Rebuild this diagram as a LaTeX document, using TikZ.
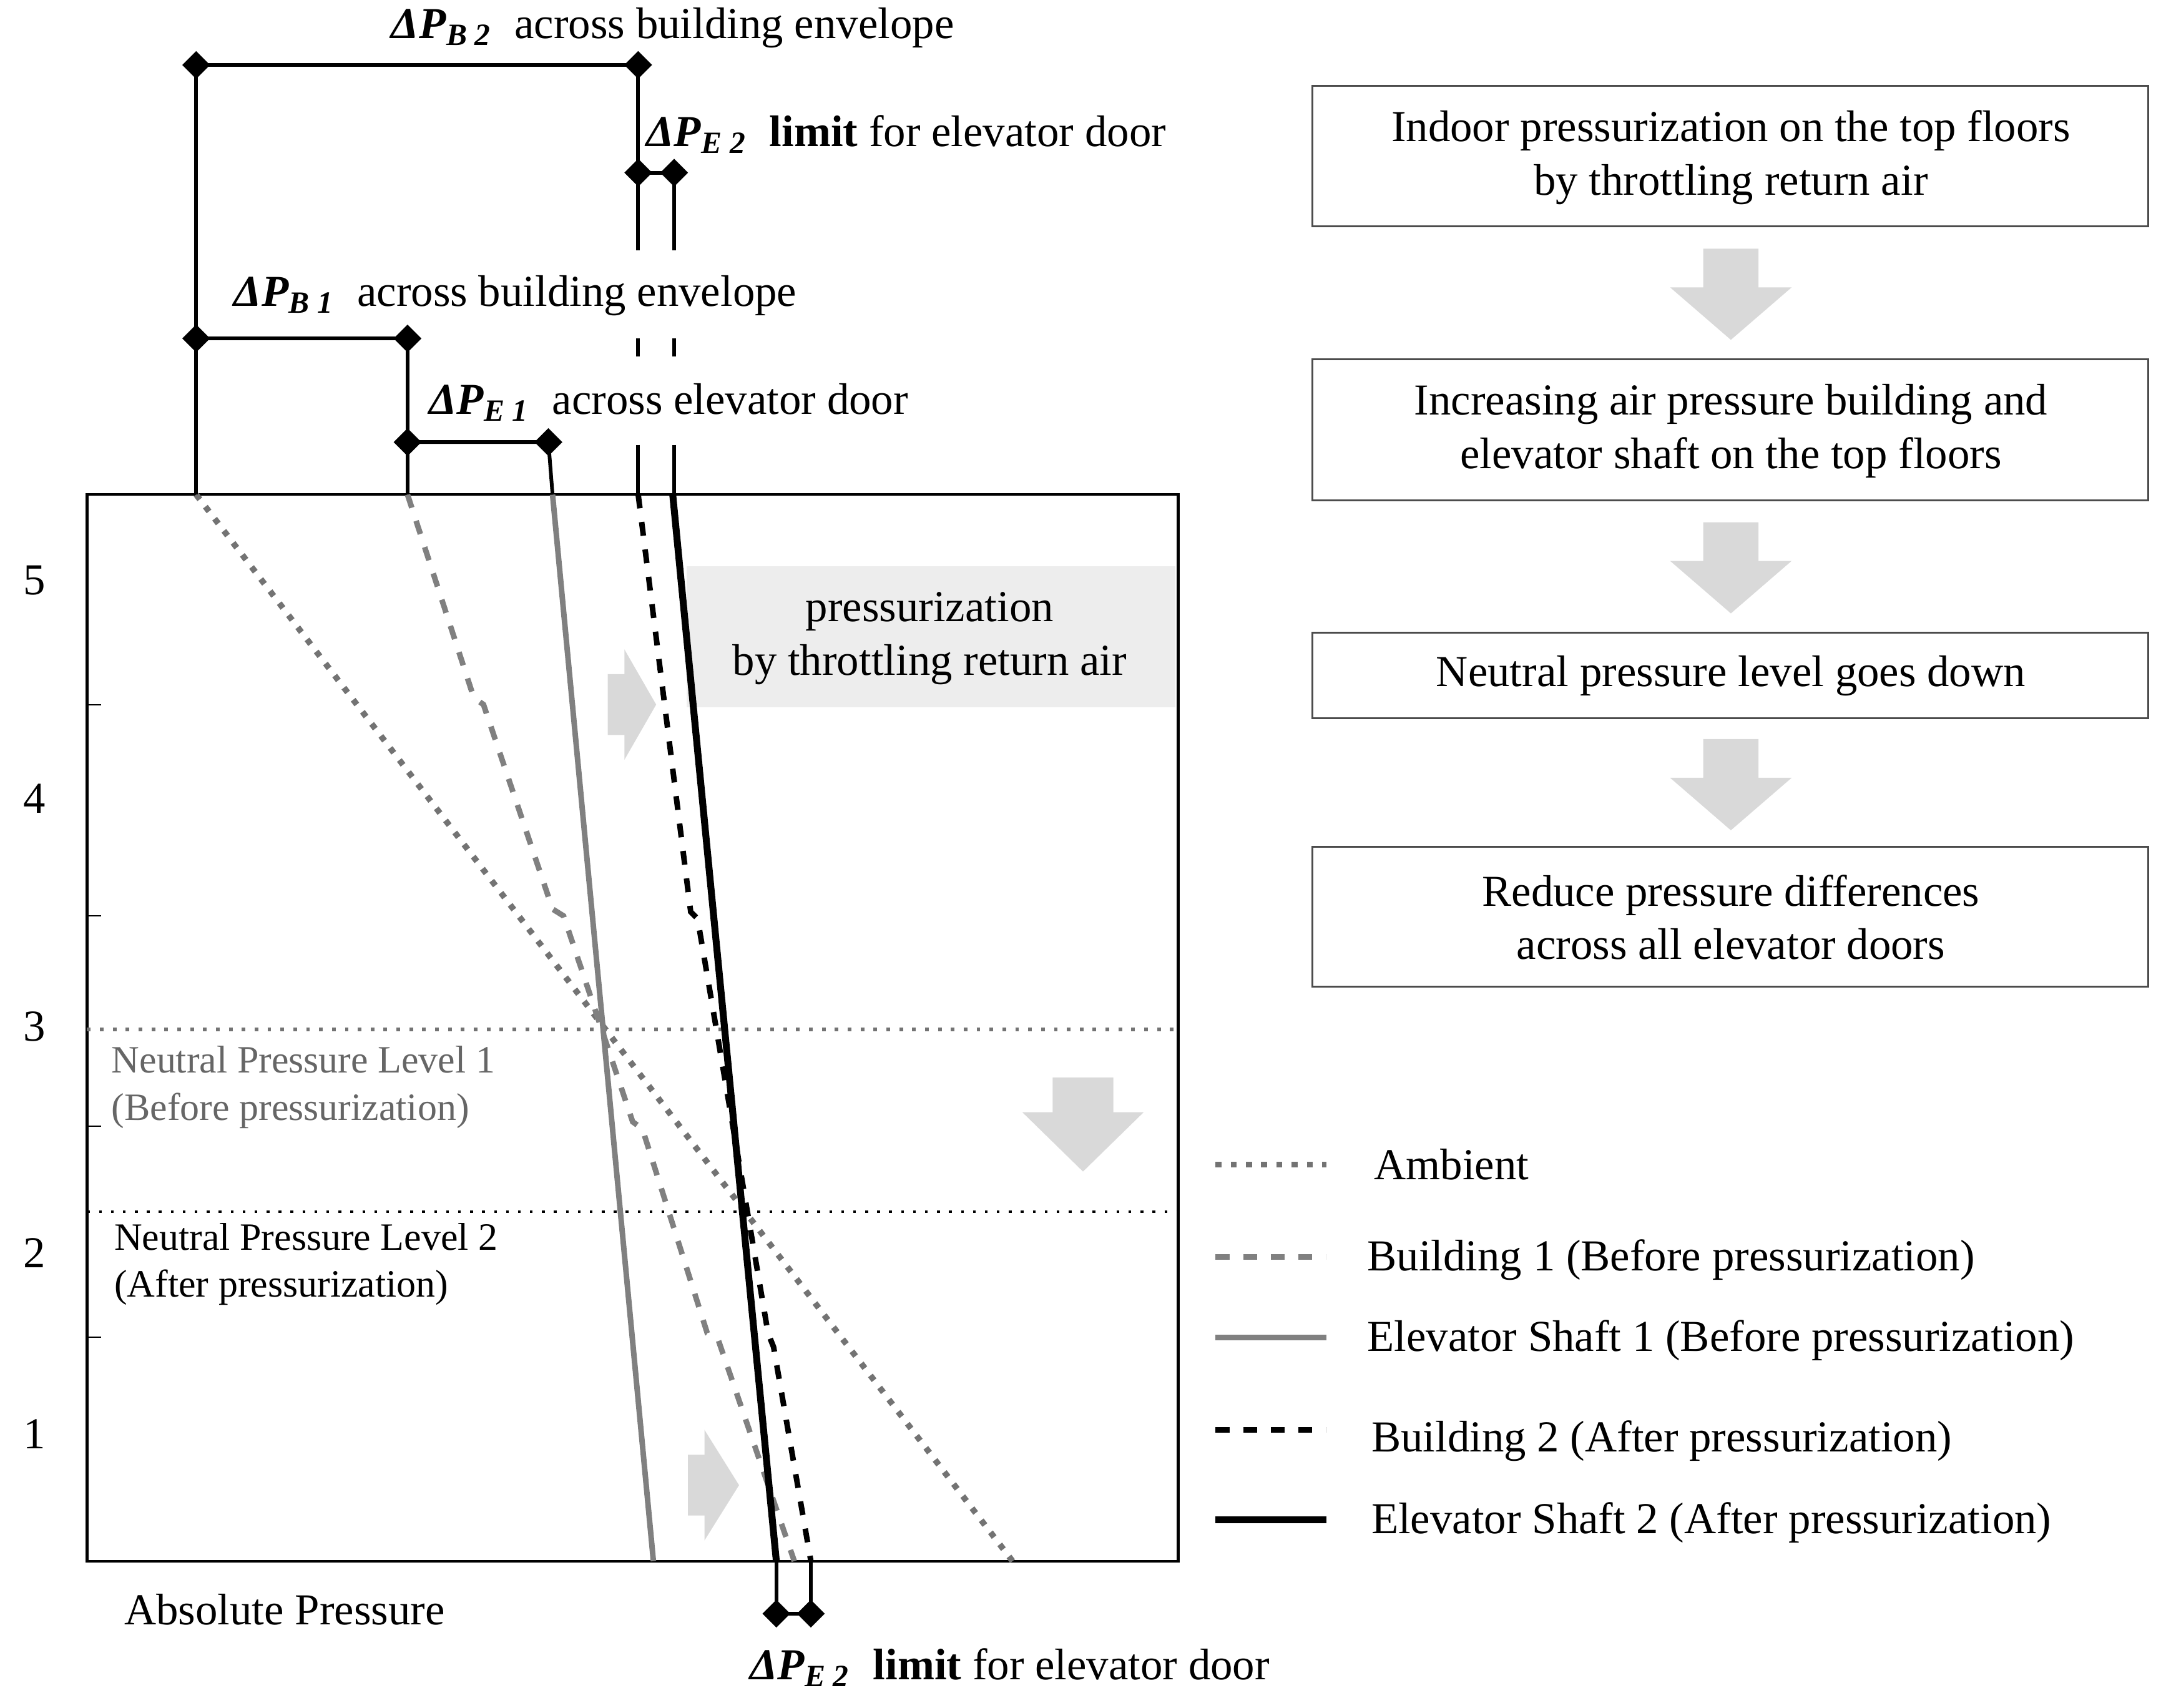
\documentclass[tikz,border=0pt]{standalone}
\usepackage{fontspec}
\setmainfont{Liberation Serif}
\usetikzlibrary{shapes.geometric}
\newcommand{\dP}[1]{\textbf{\textit{ΔP}}\textsubscript{\textbf{\textit{#1}}}}
\begin{document}
\begin{tikzpicture}[x=0.3pt,y=-0.3pt,
  every node/.style={font=\rmfamily\fontsize{9.6}{11.6}\selectfont},
  dia/.style={diamond,fill=black,inner sep=0pt,minimum size=6.2pt},
  bx/.style={draw=black!70,line width=0.4pt},
  garr/.style={fill=black!15,draw=none},
  dim/.style={line width=0.8pt}]
\useasboundingbox (0,0) rectangle (1568,1236);
% main frame
\draw[line width=0.6pt] (63,358) rectangle (853,1130);
\foreach \y/\t in {420/5,578/4,743/3,907/2,1038/1} \node at (25,\y) {\t};
\foreach \y in {510,663,815,968} \draw[line width=0.3pt] (63,\y) -- (73,\y);
% gray box
\fill[black!7] (497,410) rectangle (851,512);
\node[align=center] (pz) at (673,462) {pressurization\\by throttling return air};
% gray arrows
\fill[garr] (440,488) -- (452,488) -- (452,470) -- (475,510) -- (452,550) -- (452,532) -- (440,532) -- cycle;
\fill[garr] (498,1053) -- (510,1053) -- (510,1035) -- (535,1075) -- (510,1115) -- (510,1097) -- (498,1097) -- cycle;
\fill[garr] (762,780) -- (806,780) -- (806,805) -- (828,805) -- (784,848) -- (740,805) -- (762,805) -- cycle;
% neutral levels
\draw[black!55,dotted,line width=0.8pt] (63,745) -- (853,745);
\draw[black,dotted,line width=0.6pt] (63,877) -- (853,877);
\node[anchor=west,align=left,text=black!60,font=\rmfamily\fontsize{8.4}{10.2}\selectfont] (n1) at (69,787) {Neutral Pressure Level 1\\(Before pressurization)};
\node[anchor=west,align=left,font=\rmfamily\fontsize{8.4}{10.2}\selectfont] (n2) at (71,915) {Neutral Pressure Level 2\\(After pressurization)};
% curves
\draw[black!55,dotted,line width=1.3pt] (142,358) -- (733,1130);
\draw[black!50,dashed,line width=1.2pt] (295,358) -- (343,505) -- (350,510) -- (400,658) -- (408,663) -- (458,812) -- (465,817) -- (512,965) -- (520,970) -- (575,1130);
\draw[black!50,line width=1.2pt] (400,358) -- (473,1130);
\draw[black,dashed,line width=1.2pt] (462,358) -- (500,660) -- (505,665) -- (556,965) -- (560,975) -- (587,1130);
\draw[black,line width=1.5pt] (487,358) -- (562,1130);
% dimension lines top
\draw[dim] (142,358) -- (142,47) -- (462,47) -- (462,181);
\draw[dim] (488,125) -- (488,181);
\draw[dim] (462,125) -- (488,125);
\draw[dim] (462,245) -- (462,258) (488,245) -- (488,258);
\draw[dim] (462,322) -- (462,358) (488,322) -- (488,358);
\draw[dim] (142,245) -- (295,245) -- (295,358);
\draw[dim] (295,320) -- (397,320) -- (400,358);
\draw[dim] (562,1130) -- (562,1168) -- (587,1168) -- (587,1130);
\foreach \p/\n in {{142,47}/d1,{462,47}/d2,{462,125}/d3,{488,125}/d4,{142,245}/d5,{295,245}/d6,{295,320}/d7,{397,320}/d8,{562,1168}/d9,{587,1168}/d10}
  \node[dia] (\n) at (\p) {};
\node (l1) at (487,20) {\dP{B 2}\ \ across building envelope};
\node (l2) at (656,97) {\dP{E 2}\ \ \textbf{limit} for elevator door};
\node (l3) at (373,214) {\dP{B 1}\ \ across building envelope};
\node (l4) at (484,291) {\dP{E 1}\ \ across elevator door};
\node (l5) at (731,1207) {\dP{E 2}\ \ \textbf{limit} for elevator door};
\node (ap) at (206,1165) {Absolute Pressure};
% right flow
\draw[bx] (950,62) rectangle (1555,164);
\node[align=center] (b1) at (1253,114) {Indoor pressurization on the top floors\\by throttling return air};
\draw[bx] (950,260) rectangle (1555,362);
\node[align=center] (b2) at (1253,312) {Increasing air pressure building and\\elevator shaft on the top floors};
\draw[bx] (950,458) rectangle (1555,520);
\node (b3) at (1253,489) {Neutral pressure level goes down};
\draw[bx] (950,613) rectangle (1555,714);
\node[align=center] (b4) at (1253,664) {Reduce pressure differences\\across all elevator doors};
\foreach \y in {180,378,535}
  \fill[garr] (1233,\y) -- (1273,\y) -- (1273,\y+28) -- (1297,\y+28) -- (1253,\y+66) -- (1209,\y+28) -- (1233,\y+28) -- cycle;
% legend
\draw[black!55,dotted,line width=1.3pt] (880,843) -- (960,843);
\draw[black!50,dashed,line width=1.2pt] (880,910) -- (960,910);
\draw[black!50,line width=1.2pt] (880,968) -- (960,968);
\draw[black,dashed,line width=1.2pt] (880,1035) -- (960,1035);
\draw[black,line width=1.5pt] (880,1100) -- (960,1100);
\node[anchor=west] (g1) at (983,843) {Ambient};
\node[anchor=west] (g2) at (978,912) {Building 1 (Before pressurization)};
\node[anchor=west] (g3) at (978,970) {Elevator Shaft 1 (Before pressurization)};
\node[anchor=west] (g4) at (981,1043) {Building 2 (After pressurization)};
\node[anchor=west] (g5) at (981,1102) {Elevator Shaft 2 (After pressurization)};
\end{tikzpicture}
\end{document}
